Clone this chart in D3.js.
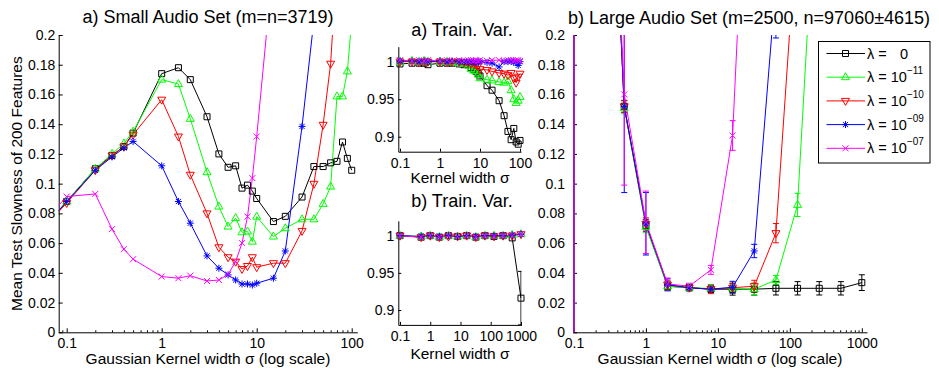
<!DOCTYPE html>
<html>
<head>
<meta charset="utf-8">
<script src="https://cdn.jsdelivr.net/npm/d3@7"></script>
<style>
  body { margin: 0; background: #fff; }
  svg text { font-family: "Liberation Sans", Arial, Helvetica, sans-serif; fill: #000; }
</style>
</head>
<body>
<svg id="chart" width="939" height="368"></svg>
<script>
// ---------- data ----------
// a) small audio set: mean test slowness vs kernel width
const sigmaSmall = [0.05, 0.1, 0.2, 0.3, 0.4, 0.5, 1, 1.5, 2, 3, 4, 5, 6, 7, 8, 9, 10, 15, 20, 30, 40, 50, 60, 70, 80, 90, 100];
const smallLam0   = [0.066, 0.088, 0.110, 0.119, 0.125, 0.134, 0.174, 0.178, 0.170, 0.145, 0.120, 0.111, 0.112, 0.097, 0.099, 0.095, 0.090, 0.0745, 0.078, 0.091, 0.1115, 0.1115, 0.114, 0.115, 0.128, 0.117, 0.109];
const smallLam11  = [0.066, 0.088, 0.110, 0.120, 0.127, 0.135, 0.170, 0.167, 0.1436, 0.1077, 0.0846, 0.0711, 0.0768, 0.0673, 0.0678, 0.061, 0.0778, 0.0644, 0.070, 0.076, 0.076, 0.0864, 0.098, 0.1587, 0.1587, 0.1755, 0.21];
const smallLam10  = [0.066, 0.087, 0.109, 0.119, 0.125, 0.133, 0.1565, 0.1317, 0.106, 0.080, 0.0572, 0.0505, 0.0475, 0.0426, 0.0446, 0.0505, 0.0438, 0.0465, 0.0465, 0.0682, 0.0999, 0.1396, 0.1807, 0.25, null, null, null];
const smallLam09  = [0.066, 0.088, 0.109, 0.118, 0.124, 0.1284, 0.112, 0.088, 0.0734, 0.0514, 0.0431, 0.0386, 0.0352, 0.0325, 0.0325, 0.0318, 0.033, 0.0364, 0.0547, 0.1385, 0.21, null, null, null, null, null, null];
const smallLam07  = [0.07, 0.0913, 0.0931, 0.0694, 0.0559, 0.0492, 0.0375, 0.0364, 0.0381, 0.0345, 0.0352, 0.039, 0.0475, 0.060, 0.0778, 0.1037, 0.1317, 0.25, null, null, null, null, null, null, null, null, null];

// a) train. var. (small set)
const sigmaTrainA = [0.1, 0.2, 0.3, 0.4, 0.5, 1, 1.5, 2, 3, 4, 5, 6, 7, 8, 9, 10, 15, 20, 30, 40, 50, 60, 70, 80, 90, 100];
const trainALam0  = [0.997, 0.998, 0.998, 0.998, 0.996, 0.998, 0.998, 0.998, 0.997, 0.996, 0.996, 0.992, 0.990, 0.987, 0.984, 0.981, 0.968, 0.962, 0.948, 0.928, 0.907, 0.896, 0.911, 0.893, 0.890, 0.895];
const trainALam11 = [1.0, 1.001, 1.0, 1.001, 1.0, 1.0, 1.0, 0.999, 0.998, 0.997, 0.995, 0.990, 0.988, 0.987, 0.983, 0.978, 0.976, 0.975, 0.973, 0.972, 0.974, 0.962, 0.950, 0.945, 0.948, 0.953];
const trainALam10 = [1.0, 1.0, 0.999, 1.0, 1.0, 1.0, 0.999, 1.0, 1.0, 0.999, 0.999, 0.998, 0.997, 0.996, 0.995, 0.990, 0.989, 0.987, 0.985, 0.984, 0.982, 0.985, 0.978, 0.972, 0.980, 0.984];
const trainALam09 = [1.001, 1.001, 1.0, 1.001, 1.0, 1.001, 1.0, 1.001, 1.0, 1.0, 1.0, 1.0, 1.0, 0.999, 1.0, 1.0, 0.999, 0.998, 0.993, 1.0, 1.0, 1.001, 0.999, 1.0, 0.995, 1.0];
const trainALam07 = [1.002, 1.001, 1.002, 1.001, 1.002, 1.001, 1.002, 1.001, 1.002, 1.001, 1.002, 1.002, 1.001, 1.002, 1.001, 1.002, 1.001, 1.002, 1.002, 1.001, 1.002, 1.002, 1.001, 1.002, 1.002, 1.001];

// b) large audio set + b) train. var.
const sigmaLarge  = [0.1, 0.5, 1, 2, 4, 8, 16, 32, 64, 128, 256, 512, 1000];
const trainBLam0  = [1.0, 0.998, 1.0, 0.998, 1.0, 0.999, 1.0, 0.998, 1.0, 0.999, 1.0, 0.997, 0.916];
const trainBErr0  = [0, 0, 0, 0, 0, 0, 0, 0, 0, 0, 0, 0, 0.036];
const trainBLam11 = [1.0, 0.999, 1.0, 0.998, 1.0, 0.999, 1.0, 0.998, 1.0, 1.0, 1.0, 1.001, 1.002];
const trainBLam10 = [1.0, 0.998, 1.0, 0.998, 0.999, 0.999, 1.0, 0.998, 1.0, 0.999, 1.0, 1.0, 1.002];
const trainBLam09 = [1.0, 0.999, 1.0, 0.999, 1.0, 0.999, 1.0, 0.999, 1.0, 1.0, 1.0, 1.001, 1.002];
const trainBLam07 = [1.0, 0.998, 1.0, 0.998, 1.0, 0.999, 1.0, 0.998, 1.0, 0.999, 1.0, 1.0, 1.002];

const largeLam0   = [0.9, 0.152, 0.072, 0.031, 0.030, 0.029, 0.029, 0.029, 0.0296, 0.0296, 0.0296, 0.0296, 0.0334];
const largeErr0   = [0.95, 0.004, 0.004, 0.003, 0.002, 0.002, 0.004, 0.004, 0.0045, 0.0045, 0.0045, 0.0045, 0.0053];
const largeLam11  = [0.9, 0.151, 0.071, 0.031, 0.030, 0.0295, 0.0295, 0.029, 0.0352, 0.0857, 0.343, null, null];
const largeErr11  = [0.95, 0.004, 0.004, 0.003, 0.002, 0.002, 0.003, 0.004, 0.003, 0.0078, 0.02, null, null];
const largeLam10  = [0.9, 0.152, 0.073, 0.032, 0.030, 0.029, 0.030, 0.031, 0.0667, 0.28, null, null, null];
const largeErr10  = [0.95, 0.004, 0.004, 0.003, 0.002, 0.003, 0.003, 0.004, 0.0065, 0.02, null, null, null];
const largeLam09  = [0.9, 0.152, 0.073, 0.032, 0.030, 0.029, 0.0303, 0.0547, 0.235, null, null, null, null];
const largeErr09  = [0.95, 0.058, 0.021, 0.004, 0.002, 0.002, 0.004, 0.0045, 0.037, null, null, null, null];
const largeLam07  = [0.9, 0.160, 0.074, 0.0325, 0.031, 0.042, 0.1324, 0.44, null, null, null, null, null];
const largeErr07  = [0.95, 0.061, 0.021, 0.004, 0.002, 0.003, 0.010, 0.03, null, null, null, null, null];

const lambdaExp = ['', '\u221211', '\u221210', '\u221209', '\u221207'];
const colors = ['#000000', '#00ff00', '#ff0000', '#0000ff', '#ff00ff'];
const markers = ['square', 'triUp', 'triDown', 'star', 'cross'];

const yTicksSlow = [0, 0.02, 0.04, 0.06, 0.08, 0.1, 0.12, 0.14, 0.16, 0.18, 0.2];
const yTicksVar = [0.9, 0.95, 1];

// ---------- helpers ----------
const svg = d3.select('#chart');
const defs = svg.append('defs');

const markerPath = {
  square: 'M-3,-3H3V3H-3Z',
  triUp: 'M0,-4.5L4,2.5H-4Z',
  triDown: 'M0,4.5L4,-2.5H-4Z',
  star: 'M-3.5,0H3.5M0,-3.5V3.5M-2.6,-2.6L2.6,2.6M-2.6,2.6L2.6,-2.6',
  cross: 'M-3,-3L3,3M-3,3L3,-3'
};

function fmt(v) { return String(+v.toFixed(3)); }

function drawPanel(cfg) {
  const x = d3.scaleLog().domain(cfg.xDomain).range([cfg.left, cfg.right]);
  const y = d3.scaleLinear().domain(cfg.yDomain).range([cfg.bottom, cfg.top]);
  const g = svg.append('g');

  defs.append('clipPath').attr('id', 'clip-' + cfg.id)
    .append('rect')
    .attr('x', cfg.left).attr('y', cfg.top)
    .attr('width', cfg.right - cfg.left).attr('height', cfg.bottom - cfg.top);

  // 1. axes (ticks point inwards, no box)
  if (cfg.minor) {
    const minorTicks = x.ticks().filter(t => Math.abs(Math.log10(t) - Math.round(Math.log10(t))) > 1e-6);
    g.append('g')
      .attr('transform', `translate(0,${cfg.bottom})`)
      .call(d3.axisBottom(x).tickValues(minorTicks).tickSize(-2).tickSizeOuter(0).tickFormat(''))
      .select('.domain').remove();
  }
  const xAxis = g.append('g')
    .attr('transform', `translate(0,${cfg.bottom})`)
    .call(d3.axisBottom(x).tickValues(cfg.xTicks).tickSize(-cfg.tick).tickSizeOuter(0).tickPadding(6).tickFormat(fmt));
  const yAxis = g.append('g')
    .attr('transform', `translate(${cfg.left},0)`)
    .call(d3.axisLeft(y).tickValues(cfg.yTicks).tickSize(-cfg.tick).tickSizeOuter(0).tickPadding(cfg.yPad).tickFormat(fmt));
  [xAxis, yAxis].forEach(a => {
    a.selectAll('text').style('font-size', '14px').attr('fill', '#000');
    a.selectAll('line,path').attr('stroke', '#000');
    a.attr('font-family', null).attr('font-size', null);
  });

  // 2. titles and labels
  g.append('text').attr('x', cfg.titleX).attr('y', cfg.titleY)
    .attr('text-anchor', 'middle').style('font-size', '18px').text(cfg.title);
  g.append('text').attr('x', cfg.xLabelX).attr('y', cfg.xLabelY)
    .attr('text-anchor', 'middle').style('font-size', '15.5px').text(cfg.xLabel);
  if (cfg.yLabel) {
    g.append('text')
      .attr('transform', `translate(${cfg.yLabelX},${(cfg.top + cfg.bottom) / 2}) rotate(-90)`)
      .attr('text-anchor', 'middle').style('font-size', '15.5px').text(cfg.yLabel);
  }

  // 3. series: error bars, lines, markers
  const plot = g.append('g').attr('clip-path', `url(#clip-${cfg.id})`);
  cfg.series.forEach((s, k) => {
    const pts = cfg.sigma.map((sg, i) => ({ sg, v: s.values[i], e: s.err ? s.err[i] : 0 }));
    const color = colors[k];

    if (s.err) {
      const eb = plot.append('g').attr('stroke', color).attr('stroke-width', 1).attr('fill', 'none');
      pts.filter(d => d.v != null && d.e).forEach(d => {
        const px = x(d.sg);
        eb.append('path').attr('d',
          `M${px},${y(d.v - d.e)}V${y(d.v + d.e)}` +
          `M${px - 3},${y(d.v - d.e)}H${px + 3}M${px - 3},${y(d.v + d.e)}H${px + 3}`);
      });
    }

    plot.append('path').datum(pts)
      .attr('fill', 'none').attr('stroke', color).attr('stroke-width', 1)
      .attr('d', d3.line().defined(d => d.v != null).x(d => x(d.sg)).y(d => y(d.v)));

    const inside = pts.filter(d => d.v != null &&
      d.sg >= cfg.xDomain[0] && d.sg <= cfg.xDomain[1] &&
      d.v >= cfg.yDomain[0] && d.v <= cfg.yDomain[1]);
    g.append('g').selectAll('path').data(inside).enter().append('path')
      .attr('transform', d => `translate(${x(d.sg)},${y(d.v)})`)
      .attr('d', markerPath[markers[k]])
      .attr('fill', 'none').attr('stroke', color).attr('stroke-width', 1);
  });
}

// ---------- panels ----------
drawPanel({
  id: 'small', left: 58.7, right: 357.3, top: 35, bottom: 332.3,
  xDomain: [0.0824, 114.5], yDomain: [0, 0.2], xTicks: [0.1, 1, 10, 100], yTicks: yTicksSlow,
  tick: 4, minor: true, yPad: 3.5,
  title: 'a) Small Audio Set (m=n=3719)', titleX: 208, titleY: 23,
  xLabel: 'Gaussian Kernel width \u03c3 (log scale)', xLabelX: 208, xLabelY: 363.5,
  yLabel: 'Mean Test Slowness of 200 Features', yLabelX: 22,
  sigma: sigmaSmall,
  series: [
    { values: smallLam0 }, { values: smallLam11 }, { values: smallLam10 },
    { values: smallLam09 }, { values: smallLam07 }
  ]
});

drawPanel({
  id: 'trainA', left: 398.3, right: 521, top: 46.7, bottom: 151.7,
  xDomain: [0.0907, 105.9], yDomain: [0.88, 1.02], xTicks: [0.1, 1, 10, 100], yTicks: yTicksVar,
  tick: 3, minor: false, yPad: 4,
  title: 'a) Train. Var.', titleX: 462, titleY: 35.5,
  xLabel: 'Kernel width \u03c3', xLabelX: 460, xLabelY: 183,
  sigma: sigmaTrainA,
  series: [
    { values: trainALam0 }, { values: trainALam11 }, { values: trainALam10 },
    { values: trainALam09 }, { values: trainALam07 }
  ]
});

drawPanel({
  id: 'trainB', left: 398.3, right: 521.5, top: 220.8, bottom: 324.9,
  xDomain: [0.0879, 1040], yDomain: [0.88, 1.02], xTicks: [0.1, 1, 10, 100, 1000], yTicks: yTicksVar,
  tick: 3, minor: false, yPad: 4,
  title: 'b) Train. Var.', titleX: 462, titleY: 206.5,
  xLabel: 'Kernel width \u03c3', xLabelX: 460, xLabelY: 358.5,
  sigma: sigmaLarge,
  series: [
    { values: trainBLam0, err: trainBErr0 }, { values: trainBLam11 }, { values: trainBLam10 },
    { values: trainBLam09 }, { values: trainBLam07 }
  ]
});

drawPanel({
  id: 'large', left: 573, right: 867, top: 35, bottom: 332.3,
  xDomain: [0.097, 1180], yDomain: [0, 0.2], xTicks: [0.1, 1, 10, 100, 1000], yTicks: yTicksSlow,
  tick: 4, minor: true, yPad: 8,
  title: 'b) Large Audio Set (m=2500, n=97060\u00b14615)', titleX: 749, titleY: 24,
  xLabel: 'Gaussian Kernel width \u03c3 (log scale)', xLabelX: 720, xLabelY: 364,
  sigma: sigmaLarge,
  series: [
    { values: largeLam0, err: largeErr0 }, { values: largeLam11, err: largeErr11 },
    { values: largeLam10, err: largeErr10 }, { values: largeLam09, err: largeErr09 },
    { values: largeLam07, err: largeErr07 }
  ]
});

// ---------- legend ----------
const legend = svg.append('g');
legend.append('rect')
  .attr('x', 818.5).attr('y', 41.5).attr('width', 111.5).attr('height', 121.5)
  .attr('fill', '#fff').attr('stroke', '#000').attr('stroke-width', 1);
lambdaExp.forEach((ex, i) => {
  const ly = 53.5 + i * 23.7;
  legend.append('line').attr('x1', 826.5).attr('x2', 865).attr('y1', ly).attr('y2', ly)
    .attr('stroke', colors[i]).attr('stroke-width', 1);
  legend.append('path').attr('transform', `translate(845.5,${ly})`)
    .attr('d', markerPath[markers[i]]).attr('fill', 'none').attr('stroke', colors[i]);
  const t = legend.append('text').attr('x', 867).attr('y', ly + 5).style('font-size', '14.5px');
  if (ex === '') {
    t.text('\u03bb =');
    legend.append('text').attr('x', 908).attr('y', ly + 5).attr('text-anchor', 'end')
      .style('font-size', '14.5px').text('0');
  } else {
    t.append('tspan').text('\u03bb = 10');
    t.append('tspan').attr('dy', -8).style('font-size', '10px').text(ex);
  }
});
</script>
</body>
</html>
